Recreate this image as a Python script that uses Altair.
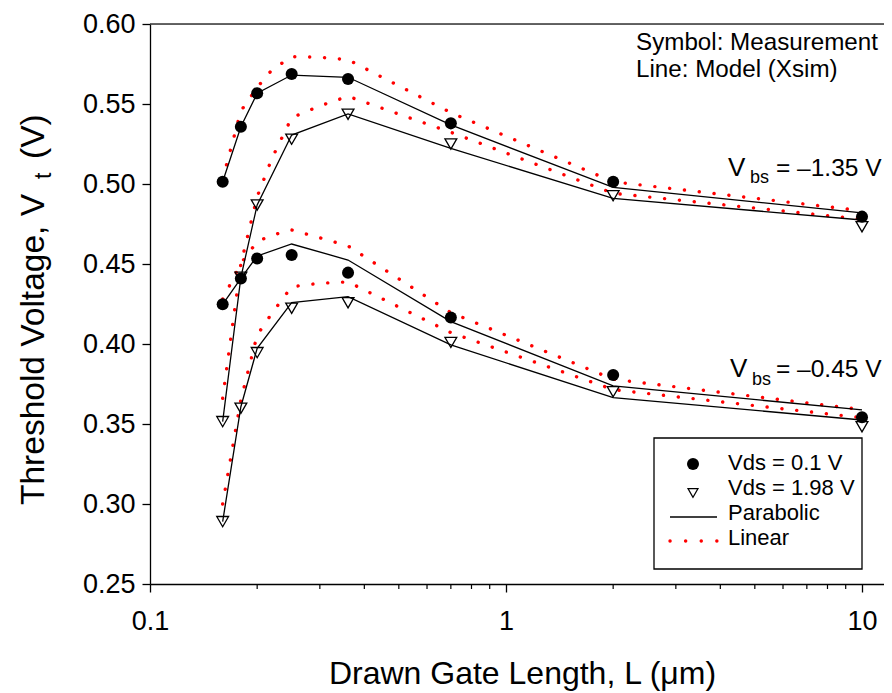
import altair as alt
import pandas as pd

FONT = "Liberation Sans"

# ---------------- data ----------------
L_meas = [0.16, 0.18, 0.2, 0.25, 0.36, 0.7, 2, 10]
meas_135_01 = [0.5014, 0.5358, 0.5567, 0.5688, 0.5656, 0.5379, 0.5014, 0.4796]
meas_135_198 = [0.3515, 0.4417, 0.4869, 0.5280, 0.5436, 0.5250, 0.4927, 0.4733]
meas_045_01 = [0.4248, 0.4410, 0.4535, 0.4556, 0.4446, 0.4165, 0.3806, 0.3542]
meas_045_198 = [0.2890, 0.3598, 0.3946, 0.4223, 0.4258, 0.4010, 0.3702, 0.3483]

par_135_01 = [0.5014, 0.5358, 0.5567, 0.5681, 0.5667, 0.5369, 0.4979, 0.4820]
par_135_198 = [0.3515, 0.4417, 0.4869, 0.5306, 0.5438, 0.5223, 0.4910, 0.4775]
par_045_01 = [0.4248, 0.4410, 0.4550, 0.4625, 0.4525, 0.4140, 0.3738, 0.3588]
par_045_198 = [0.2890, 0.3608, 0.3973, 0.4258, 0.4296, 0.3994, 0.3665, 0.3525]

L_lin = [0.16, 0.18, 0.2, 0.22, 0.25, 0.3, 0.36, 0.7, 2, 10]
lin_135_01 = [0.5030, 0.5456, 0.5604, 0.5713, 0.5796, 0.5792, 0.5777, 0.5446, 0.5014, 0.4833]
lin_135_198 = [0.3660, 0.4500, 0.4920, 0.5160, 0.5414, 0.5488, 0.5548, 0.5323, 0.4942, 0.4780]
lin_045_01 = [0.4280, 0.4504, 0.4640, 0.4680, 0.4713, 0.4664, 0.4613, 0.4196, 0.3780, 0.3590]
lin_045_198 = [0.3000, 0.3650, 0.4056, 0.4192, 0.4358, 0.4380, 0.4388, 0.4071, 0.3715, 0.3539]

x_major = [0.1, 1, 10]
x_minor = [0.2, 0.3, 0.4, 0.5, 0.6, 0.7, 0.8, 0.9, 2, 3, 4, 5, 6, 7, 8, 9]
y_ticks = [0.25, 0.30, 0.35, 0.40, 0.45, 0.50, 0.55, 0.60]

legend_labels = ["Vds = 0.1 V", "Vds = 1.98 V", "Parabolic", "Linear"]
note_lines = ["Symbol: Measurement", "Line: Model (Xsim)"]
vbs_values = ["= \u20131.35 V", "= \u20130.45 V"]

# ---------------- tables ----------------
def long(xs, ys, series):
    return pd.DataFrame({"L": xs, "Vt": ys, "series": series})

meas = pd.concat([
    long(L_meas, meas_135_01, "m135_01").assign(vds="0.1"),
    long(L_meas, meas_045_01, "m045_01").assign(vds="0.1"),
    long(L_meas, meas_135_198, "m135_198").assign(vds="1.98"),
    long(L_meas, meas_045_198, "m045_198").assign(vds="1.98"),
])
par = pd.concat([
    long(L_meas, par_135_01, "p135_01"),
    long(L_meas, par_135_198, "p135_198"),
    long(L_meas, par_045_01, "p045_01"),
    long(L_meas, par_045_198, "p045_198"),
])
lin = pd.concat([
    long(L_lin, lin_135_01, "l135_01"),
    long(L_lin, lin_135_198, "l135_198"),
    long(L_lin, lin_045_01, "l045_01"),
    long(L_lin, lin_045_198, "l045_198"),
])

W, H = 734, 560
xscale = alt.Scale(type="log", domain=[0.1, 11.53], nice=False)
yscale = alt.Scale(domain=[0.25, 0.60], nice=False, zero=False)

x_enc = alt.X("L:Q", scale=xscale, axis=alt.Axis(
    values=x_major, format="~g", tickSize=8, labelFontSize=27, labelFont=FONT,
    labelColor="black", labelPadding=16, tickColor="black", domainColor="black",
    domainWidth=1.3, tickWidth=1.3, grid=False, labelFlush=False,
    title="Drawn Gate Length, L (\u03bcm)", titleFontSize=32, titleFont=FONT,
    titleFontWeight="normal", titleColor="black", titleX=372, titleY=99,
    titleAlign="center", titleBaseline="alphabetic"))
y_enc = alt.Y("Vt:Q", scale=yscale, axis=alt.Axis(
    values=y_ticks, format=".2f", tickSize=8, labelFontSize=27, labelFont=FONT,
    labelColor="black", labelPadding=7, tickColor="black", domainColor="black",
    domainWidth=1.3, tickWidth=1.3, grid=False, labelFlush=False, title=None))

red_dots = dict(color="#ff0000", strokeDash=[0.1, 14.8], strokeCap="round", strokeWidth=3.4)

lin_layer = alt.Chart(lin).mark_line(**red_dots).encode(x=x_enc, y=y_enc, detail="series:N")
par_layer = alt.Chart(par).mark_line(color="black", strokeWidth=1.3).encode(
    x=alt.X("L:Q", scale=xscale), y=alt.Y("Vt:Q", scale=yscale), detail="series:N")
dots = alt.Chart(meas[meas.vds == "0.1"]).mark_point(
    shape="circle", filled=True, color="black", size=145, opacity=1).encode(
    x=alt.X("L:Q", scale=xscale), y=alt.Y("Vt:Q", scale=yscale))
tris = alt.Chart(meas[meas.vds == "1.98"]).mark_point(
    shape="triangle-down", filled=False, color="black", size=140, strokeWidth=1.3, opacity=1).encode(
    x=alt.X("L:Q", scale=xscale), y=alt.Y("Vt:Q", scale=yscale))

minor = alt.Chart(pd.DataFrame({"L": x_minor})).mark_rule(color="black", strokeWidth=1.2).encode(
    x=alt.X("L:Q", scale=xscale), y=alt.value(H), y2=alt.value(H + 5))

top_line = alt.Chart(pd.DataFrame({"a": [0]})).mark_rule(color="#333333", strokeWidth=1.3).encode(
    x=alt.value(0), x2=alt.value(W), y=alt.value(0))


def text(t, x, y, size, align="left", baseline="alphabetic", angle=0):
    kw = dict(fontSize=size, font=FONT, align=align, baseline=baseline, color="black")
    if angle:
        kw["angle"] = angle
    return alt.Chart(pd.DataFrame({"t": [t]})).mark_text(**kw).encode(
        x=alt.value(x), y=alt.value(y), text="t:N")


# y-axis title with subscript
ytitle = [
    text("Threshold Voltage, V", -106, 481, 33.5, angle=270),
    text("t", -99, 155, 23, angle=270),
    text("(V)", -106, 135, 33.5, angle=270),
]

# notes
notes = [text(note_lines[0], 486, 26, 24.2), text(note_lines[1], 486, 53, 24.2)]

# Vbs labels
vbs = [
    text("V", 578, 152, 26), text("bs", 600, 159, 18), text(vbs_values[0], 626, 152, 24.5),
    text("V", 580, 353, 26), text("bs", 602, 361, 18), text(vbs_values[1], 626, 353, 24.5),
]

# legend box
one = pd.DataFrame({"a": [0]})
box = alt.Chart(one).mark_rect(fill="white", stroke="black", strokeWidth=1.3).encode(
    x=alt.value(504), x2=alt.value(712), y=alt.value(414), y2=alt.value(545))
leg_dot = alt.Chart(one).mark_point(shape="circle", filled=True, color="black", size=145, opacity=1).encode(
    x=alt.value(543), y=alt.value(440))
leg_tri = alt.Chart(one).mark_point(shape="triangle-down", filled=False, color="black", size=100,
                                    strokeWidth=1.2, opacity=1).encode(x=alt.value(543), y=alt.value(469))
leg_line = alt.Chart(one).mark_rule(color="black", strokeWidth=1.3).encode(
    x=alt.value(520), x2=alt.value(567), y=alt.value(493))
leg_red = alt.Chart(one).mark_rule(color="#ff0000", strokeDash=[0.1, 15.5], strokeCap="round",
                                   strokeWidth=3.4).encode(
    x=alt.value(520), x2=alt.value(568), y=alt.value(517))
leg_text = [text(legend_labels[i], 578, yy, 22, baseline="middle")
            for i, yy in enumerate([439, 464, 489, 514])]

chart = alt.layer(
    lin_layer, par_layer, dots, tris, minor, top_line, *ytitle, *notes, *vbs,
    box, leg_dot, leg_tri, leg_line, leg_red, *leg_text
).properties(
    width=W, height=H,
    autosize=alt.AutoSizeParams(type="none"),
    padding={"left": 142, "top": 16, "right": 0, "bottom": 108},
).configure_view(stroke=None).configure(background="white")

chart.save("out.html", embed_options={"renderer": "svg", "actions": False})
